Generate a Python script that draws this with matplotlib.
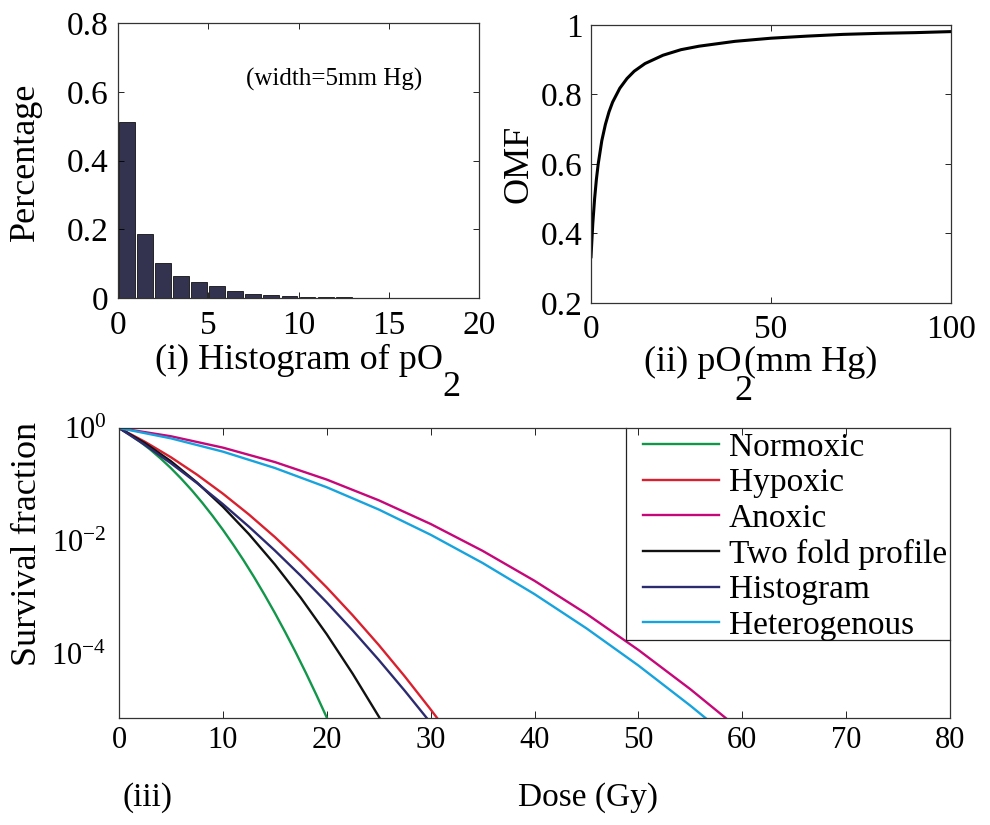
import numpy as np
import matplotlib
matplotlib.use("Agg")
import matplotlib.pyplot as plt
from matplotlib.lines import Line2D

plt.rcParams["font.family"] = ["Liberation Serif", "DejaVu Serif"]
plt.rcParams["mathtext.fontset"] = "custom"
plt.rcParams["mathtext.rm"] = "Liberation Serif"
plt.rcParams["mathtext.it"] = "Liberation Serif:italic"
plt.rcParams["axes.linewidth"] = 0.9
plt.rcParams["axes.edgecolor"] = "#333333"

# ---- (i) histogram of pO2 ----
hist_bin = [1, 2, 3, 4, 5, 6, 7, 8, 9, 10, 11, 12, 13, 14]
hist_frac = [0.513, 0.185, 0.103, 0.065, 0.046, 0.034, 0.019,
             0.0125, 0.008, 0.005, 0.004, 0.002, 0.0015, 0.001]

# ---- (ii) oxygen modification factor vs pO2 ----
po2 = [0, 0.5, 1, 1.5, 2, 3, 4, 5, 6, 8, 10, 12, 15, 20, 25, 30,
       40, 50, 60, 70, 80, 90, 100]
omf = [0.333, 0.429, 0.500, 0.556, 0.600, 0.667, 0.714, 0.750, 0.778,
       0.818, 0.846, 0.867, 0.889, 0.913, 0.929, 0.939, 0.953, 0.962,
       0.968, 0.973, 0.976, 0.978, 0.981]

# ---- (iii) survival curves, log10(survival fraction) vs dose (Gy) ----
dose_normoxic = [0, 1, 2, 3, 4, 5, 6, 7, 8, 9, 10, 11, 12, 13, 14, 15,
                 16, 17, 18, 19, 20, 21]
lsf_normoxic = [0, -0.112, -0.238, -0.380, -0.538, -0.710, -0.898, -1.100,
                -1.318, -1.552, -1.800, -2.064, -2.342, -2.636, -2.946,
                -3.270, -3.610, -3.964, -4.334, -4.720, -5.120, -5.536]

dose_hypoxic = [0, 2.5, 5, 7.5, 10, 12.5, 15, 17.5, 20, 22.5, 25, 27.5,
                30, 31, 32]
lsf_hypoxic = [0, -0.244, -0.518, -0.824, -1.161, -1.529, -1.928, -2.359,
               -2.820, -3.313, -3.836, -4.391, -4.977, -5.220, -5.468]

dose_anoxic = [0, 5, 10, 15, 20, 25, 30, 35, 40, 45, 50, 55, 60]
lsf_anoxic = [0, -0.146, -0.347, -0.602, -0.912, -1.278, -1.697, -2.172,
              -2.702, -3.286, -3.925, -4.619, -5.368]

dose_twofold = [0, 2.5, 5, 7.5, 10, 12.5, 15, 17.5, 20, 22.5, 25, 26]
lsf_twofold = [0, -0.267, -0.588, -0.963, -1.392, -1.875, -2.412, -3.003,
               -3.648, -4.347, -5.100, -5.416]

dose_histogram = [0, 2.5, 5, 7.5, 10, 12.5, 15, 17.5, 20, 22.5, 25, 27.5,
                  30, 31]
lsf_histogram = [0, -0.300, -0.624, -0.973, -1.346, -1.744, -2.166, -2.613,
                 -3.084, -3.580, -4.100, -4.645, -5.214, -5.449]

dose_hetero = [0, 5, 10, 15, 20, 25, 30, 35, 40, 45, 50, 55, 58]
lsf_hetero = [0, -0.183, -0.418, -0.707, -1.048, -1.441, -1.888, -2.387,
              -2.938, -3.543, -4.200, -4.910, -5.360]

curve_labels = ["Normoxic", "Hypoxic", "Anoxic", "Two fold profile",
                "Histogram", "Heterogenous"]
curve_colors = ["#12964a", "#d9202e", "#c6077a", "#111111", "#2d2b70",
                "#17a3dd"]
curve_doses = [dose_normoxic, dose_hypoxic, dose_anoxic, dose_twofold,
               dose_histogram, dose_hetero]
curve_lsf = [lsf_normoxic, lsf_hypoxic, lsf_anoxic, lsf_twofold,
             lsf_histogram, lsf_hetero]

W, H = 990, 825
fig = plt.figure(figsize=(W / 100, H / 100), dpi=100)


def box(x0, y0, x1, y1):
    """Axes rectangle from pixel corners (top-left origin)."""
    return [x0 / W, 1 - y1 / H, (x1 - x0) / W, (y1 - y0) / H]


def fx(px):
    return px / W


def fy(py):
    return 1 - py / H


TICK = 24
LABEL = 26

# (i) histogram
ax1 = fig.add_axes(box(118, 23, 479, 298))
centers = np.array(hist_bin) - 0.5
ax1.bar(centers, hist_frac, width=0.88, color="#33324f",
        edgecolor="#111111", linewidth=0.6)
ax1.set_xlim(0, 20)
ax1.set_ylim(0, 0.8)
ax1.set_xticks([0, 5, 10, 15, 20])
ax1.set_yticks([0, 0.2, 0.4, 0.6, 0.8])
ax1.set_yticklabels(["0", "0.2", "0.4", "0.6", "0.8"])
ax1.tick_params(direction="in", top=True, right=True, length=4,
                labelsize=TICK, width=0.6)
ax1.tick_params(axis="x", pad=9)
ax1.tick_params(axis="y", pad=7)
ax1.text(0.598, 0.793, "(width=5mm Hg)", transform=ax1.transAxes,
         ha="center", va="center", fontsize=18)
fig.text(fx(25), fy(162), "Percentage", rotation=90, ha="center",
         va="center", fontsize=LABEL)
fig.text(fx(443), fy(360), "(i) Histogram of pO", ha="right",
         va="center", fontsize=LABEL)
fig.text(fx(442), fy(388), "2", ha="left", va="center", fontsize=LABEL)

# (ii) OMF
ax2 = fig.add_axes(box(591, 25, 951, 303))
ax2.plot(po2, omf, color="black", linewidth=2.2)
ax2.set_xlim(0, 100)
ax2.set_ylim(0.2, 1.0)
ax2.set_xticks([0, 50, 100])
ax2.set_yticks([0.2, 0.4, 0.6, 0.8, 1.0])
ax2.set_yticklabels(["0.2", "0.4", "0.6", "0.8", "1"])
ax2.tick_params(direction="in", top=True, right=True, length=4,
                labelsize=TICK, width=0.6)
ax2.tick_params(axis="x", pad=8)
ax2.tick_params(axis="y", pad=6)
fig.text(fx(519), fy(164), "OMF", rotation=90, ha="center", va="center",
         fontsize=LABEL)
fig.text(fx(741), fy(362), "(ii) pO", ha="right", va="center",
         fontsize=LABEL)
fig.text(fx(744), fy(362), "(mm Hg)", ha="left", va="center",
         fontsize=LABEL)
fig.text(fx(734), fy(392), "2", ha="left", va="center", fontsize=LABEL)

# (iii) survival curves
ax3 = fig.add_axes(box(119, 428, 950, 717.5))
handles = []
for d, l, c, lab in zip(curve_doses, curve_lsf, curve_colors, curve_labels):
    (h,) = ax3.semilogy(d, 10.0 ** np.array(l), color=c, linewidth=1.7,
                        label=lab)
    handles.append(h)
ax3.set_xlim(0, 80)
ax3.set_ylim(10 ** -5.12, 1.0)
ax3.set_xticks(range(0, 81, 10))
ax3.set_yticks([1.0, 1e-2, 1e-4])
ax3.set_yticklabels([r"$10^{0}$", r"$10^{-2}$", r"$10^{-4}$"])
ax3.yaxis.set_minor_locator(matplotlib.ticker.NullLocator())
ax3.tick_params(axis="x", direction="in", top=True, length=5, width=0.6,
                labelsize=22, pad=6)
ax3.tick_params(axis="y", length=0, labelsize=22, pad=9)

leg = ax3.legend(handles=handles, loc="upper left",
                 bbox_to_anchor=(0.6306, 0.985), frameon=False,
                 fontsize=24, handlelength=2.28, handletextpad=0.3,
                 borderpad=0, borderaxespad=0, labelspacing=0.15)
# legend frame: left and bottom edges (top/right are the axes spines)
ax3.add_line(Line2D([0.610, 0.610], [1.0, 0.268], transform=ax3.transAxes,
                    color="#222222", linewidth=0.9, clip_on=False))
ax3.add_line(Line2D([0.610, 1.0], [0.268, 0.268], transform=ax3.transAxes,
                    color="#222222", linewidth=0.9, clip_on=False))

fig.text(fx(28), fy(544), "Survival fraction", rotation=90, ha="center",
         va="center", fontsize=LABEL)
fig.text(fx(122), fy(798), "(iii)", ha="left", va="center", fontsize=24)
fig.text(fx(518), fy(798), "Dose (Gy)", ha="left", va="center",
         fontsize=24)

fig.savefig("out.png", dpi=100)
